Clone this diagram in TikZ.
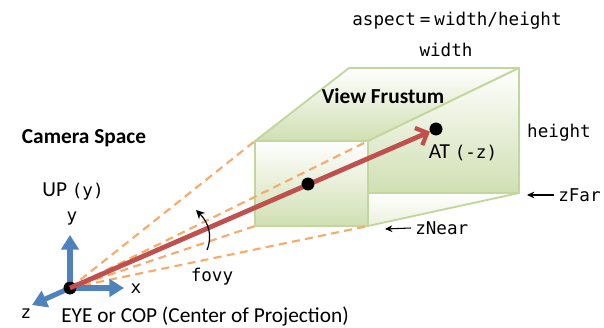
\documentclass[tikz,border=0pt]{standalone}
\usepackage{fontspec}
\usepackage{xcolor}
\usetikzlibrary{arrows.meta}
\setmainfont{Carlito}
\setmonofont{DejaVu Sans Mono}
\definecolor{face_green}{RGB}{208,223,178}
\definecolor{edge_green}{RGB}{195,214,155}
\definecolor{ray_orange}{RGB}{247,170,105}
\definecolor{view_red}{RGB}{192,80,77}
\definecolor{axis_blue}{RGB}{79,129,189}
\tikzset{
  face/.style={top color=white, bottom color=face_green, draw=edge_green, line width=1.4pt, line join=round},
  ray/.style={ray_orange, line width=1.6pt, dash pattern=on 6pt off 4pt},
  axis/.style={axis_blue, line width=3.8pt, -{Triangle[length=11pt, width=13pt]}},
  pointer/.style={black, line width=0.8pt, -{Stealth[length=5.5pt, width=5pt]}},
  dot/.style={circle, fill=black, inner sep=0pt, minimum size=9.5pt},
  txt/.style={inner sep=0pt, font=\fontsize{16}{18}\selectfont},
  code/.style={inner sep=0pt, font=\fontsize{13.2}{15}\selectfont\ttfamily},
  head/.style={inner sep=0pt, font=\fontsize{16}{18}\selectfont\bfseries}
}
\begin{document}
\begin{tikzpicture}[x=0.75pt, y=-0.75pt]
  \useasboundingbox (0,0) rectangle (604,328);
  % corners of the frustum
  \coordinate (nearTL) at (255,141);
  \coordinate (nearTR) at (368,141);
  \coordinate (nearBL) at (255,226);
  \coordinate (nearBR) at (368,226);
  \coordinate (farTL) at (349,68);
  \coordinate (farTR) at (519,68);
  \coordinate (farBR) at (519,193);
  \coordinate (farBL) at (368,193);
  % faces
  \shade[face] (nearTL) -- (farTL) -- (farTR) -- (nearTR) -- cycle;
  \shade[face] (nearTR) -- (farTR) -- (farBR) -- (farBL) -- cycle;
  \shade[face, bottom color=face_green!45] (farBL) -- (farBR) -- (nearBR) -- cycle;
  \shade[face] (nearTL) rectangle (nearBR);
  % eye and rays
  \node[dot] (eye) at (70,288) {};
  \foreach \corner in {nearTL, nearTR, nearBL, nearBR}{
    \draw[ray] (eye.center) -- (\corner);
  }
  % axes
  \coordinate (xtip) at (124,288);
  \coordinate (ytip) at (70,235);
  \coordinate (ztip) at (32,305);
  \draw[axis] (eye.center) -- (xtip);
  \draw[axis] (eye.center) -- (ytip);
  \draw[axis] (eye.center) -- (ztip);
  \node[dot] at (eye.center) {};
  % view direction
  \node[dot] (at) at (436,129) {};
  \node[dot] (mid) at (308,184) {};
  \draw[view_red, line width=3.6pt, -{Straight Barb[length=7pt, width=14pt, line width=3.2pt]}] (eye.center) -- (at);
  \node[dot] at (mid.center) {};
  \node[dot] at (at.center) {};
  % fovy
  \coordinate (fovyStart) at (207,250);
  \coordinate (fovyEnd) at (196,210);
  \draw[black, line width=0.9pt, -{Stealth[length=6.5pt, width=6.5pt]}] (fovyStart) .. controls (213,235) and (208,222) .. (fovyEnd);
  \node[code] (fovy) at (212,277) {fovy};
  % labels
  \node[head] (space) at (84,138) {Camera Space};
  \node[head] (title) at (383,96) {View Frustum};
  \node[txt] (up) at (73,191) {UP {\fontsize{13.2}{15}\selectfont\ttfamily(y)}};
  \node[code] (ylabel) at (72,219) {y};
  \node[code] (xlabel) at (136,289) {x};
  \node[code] (zlabel) at (26,314) {z};
  \node[txt] (eyelabel) at (205,317) {EYE or COP (Center of Projection)};
  \node[txt] (atlabel) at (463,153) {AT {\fontsize{13.2}{15}\selectfont\ttfamily(-z)}};
  \node[code] (aspect) at (457,21) {aspect\hspace{3pt}=\hspace{3pt}width/height};
  \node[code] (width) at (446,50) {width};
  \node[code] (height) at (559,133) {height};
  % zFar and zNear pointers
  \node[code, anchor=west] (zfar) at (558,195) {zFar};
  \node[code, anchor=west] (znear) at (415,228) {zNear};
  \coordinate (zfarTip) at (527,195);
  \coordinate (znearTip) at (385,229);
  \draw[pointer] (zfar.west) ++(-4,0) -- (zfarTip);
  \draw[pointer] (znear.west) ++(-4,0) -- (znearTip);
\end{tikzpicture}
\end{document}
